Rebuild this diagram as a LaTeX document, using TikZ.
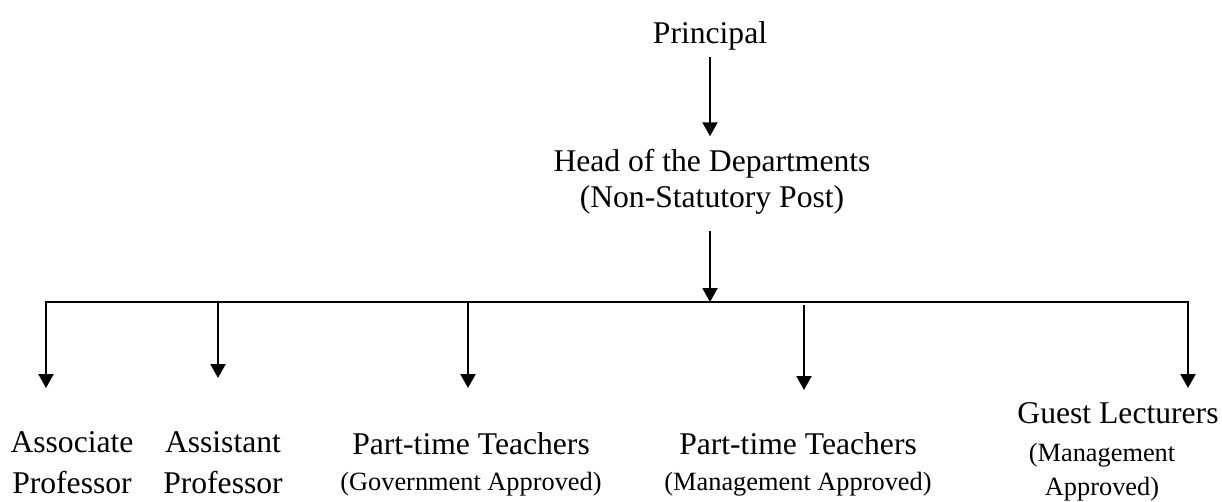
\documentclass[tikz,border=0pt]{standalone}
\usepackage{fontspec}
\setmainfont{Liberation Serif}
\usetikzlibrary{arrows.meta}

\tikzset{
    >={Triangle[length=0.28cm, width=0.3cm]},
    post/.style={font=\fontsize{18}{20}\selectfont, align=center, inner sep=0.14cm},
    note/.style={font=\fontsize{15}{17}\selectfont},
    arr/.style={line width=1.2pt, ->}
}
\newcommand{\notetxt}[1]{{\fontsize{15}{17}\selectfont #1}}

\begin{document}
\begin{tikzpicture}[x=0.02cm, y=-0.02cm]
    \useasboundingbox (0,0) rectangle (1222,501);

    % Верхние уровни
    \node[post, anchor=base] (principal) at (710,43) {Principal};
    \node[post, anchor=base] (head) at (712,207) {Head of the Departments\\(Non-Statutory Post)};

    % Нижний уровень
    \node[post, anchor=base] (associate) at (72,493) {Associate\\[3.3pt]Professor};
    \node[post, anchor=base] (assistant) at (223,493) {Assistant\\[3.3pt]Professor};
    \node[post, anchor=base] (parttimegov) at (471,490) {Part-time Teachers\\\notetxt{(Government Approved)}};
    \node[post, anchor=base] (parttimemgmt) at (798,490) {Part-time Teachers\\\notetxt{(Management Approved)}};
    \node[post, anchor=base] (guest) at (1118,423) {Guest Lecturers};
    \node[post, note, anchor=base] (guestnote) at (1102,495) {(Management\\[1.8pt]Approved)};

    % Шина
    \coordinate (hub) at (710,302);
    \coordinate (bus1) at (46,302);   \coordinate (tip1) at (46,388);
    \coordinate (bus2) at (218,302);  \coordinate (tip2) at (218,378);
    \coordinate (bus3) at (468,302);  \coordinate (tip3) at (468,388);
    \coordinate (bus4) at (804,305);  \coordinate (tip4) at (804,390);
    \coordinate (bus5) at (1188,302); \coordinate (tip5) at (1188,388);

    % Стрелки
    \draw[arr, shorten >=0.12cm] (principal) -- (principal |- head.north);
    \draw[arr, shorten <=0.2cm] (head.south -| hub) -- (hub);
    \draw[arr, <->] (tip1) -- (bus1) -- (bus5) -- (tip5);
    \draw[arr] (bus2) -- (tip2);
    \draw[arr] (bus3) -- (tip3);
    \draw[arr] (bus4) -- (tip4);
\end{tikzpicture}
\end{document}
